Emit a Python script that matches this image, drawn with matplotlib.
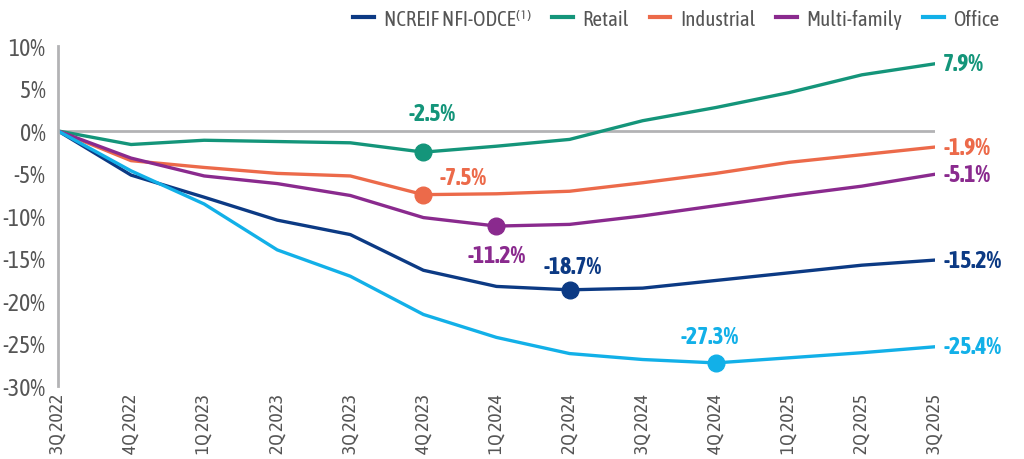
import numpy as np
import matplotlib
matplotlib.use('Agg')
import matplotlib.pyplot as plt
from matplotlib.lines import Line2D

plt.rcParams['font.family'] = ['Asap Condensed', 'Barlow Condensed', 'DejaVu Sans']

# ── Datos ─────────────────────────────────────────────────────────
trimestres = ['3Q 2022', '4Q 2022', '1Q 2023', '2Q 2023', '3Q 2023', '4Q 2023',
              '1Q 2024', '2Q 2024', '3Q 2024', '4Q 2024', '1Q 2025', '2Q 2025', '3Q 2025']

odce       = [0, -5.2, -7.8, -10.5, -12.2, -16.4, -18.3, -18.7, -18.5, -17.6, -16.7, -15.8, -15.2]
retail     = [0, -1.6, -1.1, -1.25, -1.4, -2.5, -1.8, -1.0, 1.2, 2.75, 4.5, 6.6, 7.9]
industrial = [0, -3.5, -4.3, -5.0, -5.3, -7.5, -7.4, -7.1, -6.1, -5.0, -3.7, -2.8, -1.9]
multifam   = [0, -3.2, -5.3, -6.2, -7.6, -10.2, -11.2, -11.0, -10.0, -8.8, -7.6, -6.5, -5.1]
office     = [0, -4.7, -8.6, -14.0, -17.1, -21.6, -24.3, -26.2, -26.9, -27.3, -26.7, -26.1, -25.4]

series = [
    ('NCREIF NFI-ODCE⁽¹⁾', odce, '#0c3a84'),
    ('Retail', retail, '#14957a'),
    ('Industrial', industrial, '#ec6a4a'),
    ('Multi-family', multifam, '#8a2a8e'),
    ('Office', office, '#12b0e8'),
]

# mínimo marcado: (índice, dx en pt, dy en pt, ha)
minimos = {
    'Retail': (5, 6, 28, 'center'),
    'Industrial': (5, 12, 12, 'left'),
    'Multi-family': (6, 0, -21, 'center'),
    'NCREIF NFI-ODCE⁽¹⁾': (7, 2, 17, 'center'),
    'Office': (9, -4, 19, 'center'),
}

# ── Figura ────────────────────────────────────────────────────────
fig = plt.figure(figsize=(10.24, 4.6), dpi=100)
ax = fig.add_axes([0.0566, 0.159, 0.8565, 0.739])

x = np.arange(len(trimestres))
ax.axhline(0, color='#b3b3b5', linewidth=2, zorder=1)

for nombre, vals, color in series:
    ax.plot(x, vals, color=color, linewidth=2.4, solid_capstyle='round', zorder=2)
    i, dx, dy, ha = minimos[nombre]
    ax.plot(x[i], vals[i], 'o', color=color, markersize=12, zorder=3)
    ax.annotate(f'{vals[i]:.1f}%', (x[i], vals[i]), xytext=(dx, dy),
                textcoords='offset points', ha=ha, va='center',
                color=color, fontsize=17, fontweight='bold')
    ax.annotate(f'{vals[-1]:.1f}%', (x[-1], vals[-1]), xytext=(6, 0),
                textcoords='offset points', ha='left', va='center',
                color=color, fontsize=17, fontweight='bold')

ax.set_xlim(0, len(trimestres) - 1)
ax.set_ylim(-30, 10)
ax.set_yticks(range(-30, 11, 5))
ax.set_yticklabels([f'{v}%' for v in range(-30, 11, 5)])
ax.set_xticks(x)
ax.set_xticklabels(trimestres, rotation=90)
ax.tick_params(axis='both', length=0, colors='#555555')
ax.tick_params(axis='y', labelsize=17, pad=9)
ax.tick_params(axis='x', labelsize=14, pad=5)

for lado in ['top', 'right', 'bottom']:
    ax.spines[lado].set_visible(False)
ax.spines['left'].set_color('#b3b3b5')
ax.spines['left'].set_linewidth(2)

handles = [Line2D([0], [0], color=c, linewidth=3) for _, _, c in series]
fig.legend(handles, [n for n, _, _ in series], loc='upper right',
           bbox_to_anchor=(0.994, 1.02), ncol=5, frameon=False, fontsize=15,
           handlelength=1.0, handletextpad=0.45, columnspacing=1.0,
           labelcolor='#555555')

fig.savefig('out.png', dpi=100)
